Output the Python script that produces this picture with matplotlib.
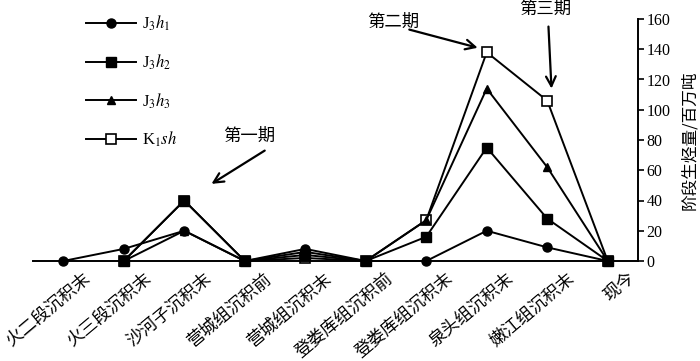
import numpy as np
import matplotlib
matplotlib.use('Agg')
import matplotlib.pyplot as plt
import matplotlib.transforms as mtransforms

# fonts: CJK for chinese text, serif for numbers
plt.rcParams['font.family'] = ['Liberation Serif', 'Noto Sans CJK SC', 'DejaVu Sans']
plt.rcParams['mathtext.fontset'] = 'stix'

# data
stages = ['火二段沉积末', '火三段沉积末', '沙河子沉积末', '营城组沉积前', '营城组沉积末',
          '登娄库组沉积前', '登娄库组沉积末', '泉头组沉积末', '嫩江组沉积末', '现今']
j3h1 = [0, 8, 20, 0, 8, 0, 0, 20, 9, 0]
j3h2 = [np.nan, 0, 40, 0, 4, 0, 16, 75, 28, 0]
j3h3 = [np.nan, 0, 20, 0, 6, 0, 27, 114, 62, 0]
k1sh = [np.nan, 0, 40, 0, 2, 0, 27, 138, 106, 0]
yticks = [0, 20, 40, 60, 80, 100, 120, 140, 160]

fig = plt.figure(figsize=(7, 3.61), dpi=100)
ax = fig.add_axes([33/700, 100/361, (638-33)/700, (261-19)/361])

x = np.arange(len(stages))
kw = dict(color='black', lw=1.4, clip_on=False)
l4, = ax.plot(x, k1sh, marker='s', ms=6.5, mfc='white', mec='black', mew=1.2, **kw)
l3, = ax.plot(x, j3h3, marker='^', ms=6, **kw)
l2, = ax.plot(x, j3h2, marker='s', ms=6.5, **kw)
l1, = ax.plot(x, j3h1, marker='o', ms=6.5, **kw)

ax.set_xlim(-0.5, 9.5)
ax.set_ylim(0, 160)

# only bottom and right axis lines
ax.spines['left'].set_visible(False)
ax.spines['top'].set_visible(False)
ax.spines['bottom'].set_linewidth(1.4)
ax.spines['right'].set_linewidth(1.4)
ax.yaxis.tick_right()
ax.yaxis.set_label_position('right')
ax.set_yticks(yticks)
ax.tick_params(axis='y', direction='out', length=4, width=1.2, labelsize=11.5, pad=2)
ax.set_ylabel('阶段生烃量/百万吨', family=['Noto Sans CJK SC'], fontsize=12, labelpad=8)

# rotated category labels
ax.set_xticks(x)
ax.set_xticklabels([])
ax.tick_params(axis='x', length=0)
offset = mtransforms.ScaledTranslation(19/100, -8/100, fig.dpi_scale_trans)
for xi, lab in zip(x, stages):
    ax.text(xi, 0, lab, transform=ax.transData + offset, rotation=40,
            rotation_mode='anchor', ha='right', va='top', fontsize=12.5,
            family=['Noto Sans CJK SC'], clip_on=False)

# legend
leg = ax.legend([l1, l2, l3, l4],
                [r'J$_3$$\mathit{h}_1$', r'J$_3$$\mathit{h}_2$', r'J$_3$$\mathit{h}_3$', r'K$_1$$\mathit{sh}$'],
                loc='upper left', bbox_to_anchor=(86/700, 1-14/361), bbox_transform=fig.transFigure,
                frameon=False, fontsize=12, handlelength=3.0, handletextpad=0.35,
                labelspacing=1.15, borderpad=0, borderaxespad=0)

# period annotations: text and arrows drawn separately
arw = dict(arrowstyle='->,head_length=0.7,head_width=0.35', lw=1.6, color='black',
           shrinkA=0, shrinkB=0)
tkw = dict(ha='center', va='center', fontsize=12.5, family=['Noto Sans CJK SC'], clip_on=False)
ax.text(3.08, 83, '第一期', **tkw)
ax.annotate('', xy=(2.45, 51), xytext=(3.33, 73), arrowprops=arw, annotation_clip=False)
ax.text(5.45, 158, '第二期', **tkw)
ax.annotate('', xy=(6.85, 141), xytext=(5.72, 153), arrowprops=arw, annotation_clip=False)
ax.text(7.96, 167, '第三期', **tkw)
ax.annotate('', xy=(8.07, 114), xytext=(8.02, 155), arrowprops=arw, annotation_clip=False)

fig.savefig('out.png', dpi=100)
